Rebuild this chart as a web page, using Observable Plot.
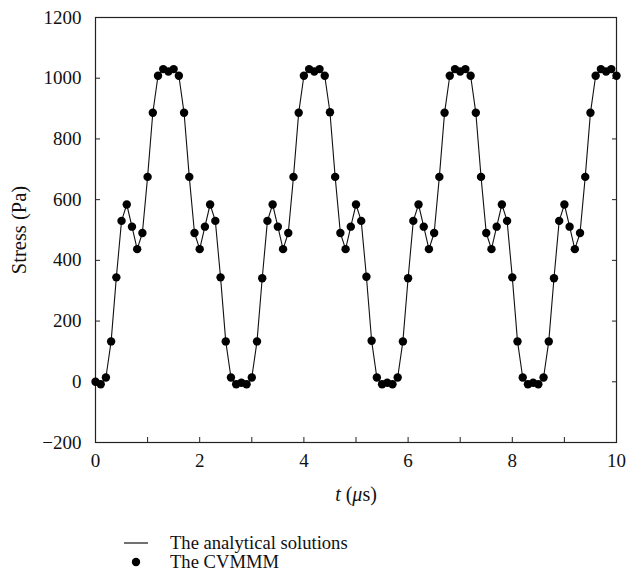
<!DOCTYPE html>
<html><head><meta charset="utf-8">
<script src="https://cdn.jsdelivr.net/npm/d3@7"></script>
<script src="https://cdn.jsdelivr.net/npm/@observablehq/plot@0.6"></script>
<style>
body{margin:0;background:#fff;font-family:"Liberation Serif",serif;}
#wrap{position:relative;width:638px;height:580px;overflow:hidden;}
#wrap svg{font-family:"Liberation Serif","Times New Roman",serif !important;}
#wrap svg text{font-family:"Liberation Serif","Times New Roman",serif !important;font-size:19px;fill:#111;}
#wrap svg text.ytitle{font-size:20.5px !important;}
#wrap svg text.xtitle{font-size:20px !important;}
#wrap svg text.legtext{font-size:18.6px !important;}
#legend{position:absolute;left:0;top:0;width:638px;height:580px;pointer-events:none;}
</style></head><body><div id="wrap"></div>
<script>
const stressValues = [
  0, -8, 14, 133, 344, 530, 584, 511, 437, 490, 675, 886, 1008, 1030, 1022, 1030, 1008, 886, 675, 490, 437, 511, 584, 530, 344, 133, 14, -8,
  -3, -8, 14, 133, 341, 530, 584, 511, 437, 490, 675, 886, 1008, 1030, 1022, 1030, 1008, 888, 675, 490, 437, 511, 584, 530, 346, 135, 14, -8,
  -3, -8, 14, 133, 341, 530, 584, 511, 437, 490, 675, 886, 1008, 1030, 1022, 1030, 1008, 886, 675, 490, 437, 511, 584, 530, 344, 133, 14, -8,
  -3, -8, 14, 133, 341, 530, 584, 511, 437, 490, 675, 886, 1008, 1030, 1022, 1030, 1008
];
const timeStep = 0.1;
const xTicks = [0, 1, 2, 3, 4, 5, 6, 7, 8, 9, 10];
const xTickLabels = ["0", "", "2", "", "4", "", "6", "", "8", "", "10"];
const yTicks = [-200, 0, 200, 400, 600, 800, 1000, 1200];
const yTickLabels = ["\u2212200", "0", "200", "400", "600", "800", "1000", "1200"];
const seriesNames = ["The analytical solutions", "The CVMMM"];
const yTitle = "Stress (Pa)";

const data = stressValues.map((v, i) => ({t: +(i * timeStep).toFixed(1), s: v}));

const FONT = "Liberation Serif, Times New Roman, serif";
const chart = Plot.plot({
  width: 638, height: 515,
  marginLeft: 95, marginRight: 22, marginTop: 17, marginBottom: 73,
  style: "font-family: Liberation Serif, serif; font-size: 19px; color: #111; background: white; overflow: visible;",
  x: {domain: [0, 10]},
  y: {domain: [-200, 1200]},
  marks: [
    Plot.axisX({ticks: xTicks, tickSize: -5, tickPadding: 16, tickFormat: d => xTickLabels[xTicks.indexOf(d)], label: null, stroke: "#222", fontSize: 19}),
    Plot.axisY({ticks: yTicks, tickSize: -5, tickPadding: 19, tickFormat: d => yTickLabels[yTicks.indexOf(d)], label: null, stroke: "#222", fontSize: 19}),
    Plot.axisY({anchor: "right", ticks: yTicks, tickSize: -5, tickFormat: () => "", label: null, stroke: "#222"}),
    Plot.frame({stroke: "#222", strokeWidth: 1.2}),
    Plot.line(data, {x: "t", y: "s", stroke: "#111", strokeWidth: 1.1}),
    Plot.dot(data, {x: "t", y: "s", r: 4.2, fill: "#000", stroke: "none"})
  ]
});
document.getElementById("wrap").appendChild(chart);

const svg = d3.select(chart);
// x axis title with italic t and µ
const xt = svg.append("text").attr("class", "xtitle")
  .attr("x", 356).attr("y", 501).attr("text-anchor", "middle")
  .attr("font-family", FONT).attr("font-size", 20).attr("fill", "#111");
xt.append("tspan").attr("font-style", "italic").text("t");
xt.append("tspan").text(" (");
xt.append("tspan").attr("font-style", "italic").text("\u03bc");
xt.append("tspan").text("s)");
// y axis title
svg.append("text").attr("class", "ytitle")
  .attr("transform", "translate(26,230) rotate(-90)")
  .attr("text-anchor", "middle")
  .attr("font-family", FONT).attr("font-size", 20.5).attr("fill", "#111")
  .text(yTitle);

// legend below the chart
const leg = d3.select("#wrap").append("svg").attr("id", "legend").attr("width", 638).attr("height", 580);
leg.append("line").attr("x1", 124).attr("x2", 148).attr("y1", 543).attr("y2", 543).attr("stroke", "#111").attr("stroke-width", 1.2);
leg.append("circle").attr("cx", 136).attr("cy", 562).attr("r", 4.2).attr("fill", "#000");
seriesNames.forEach((name, i) => {
  leg.append("text").attr("class", "legtext").attr("x", 170).attr("y", 549 + i * 19)
    .attr("font-family", FONT).attr("font-size", 18.6).attr("fill", "#111").text(name);
});
</script>
</body></html>
